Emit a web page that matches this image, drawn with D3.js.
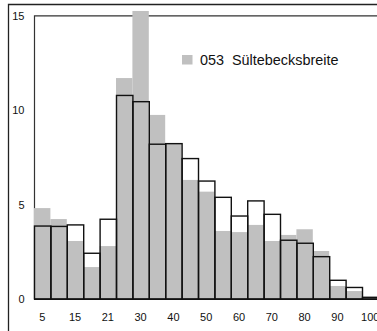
<!DOCTYPE html>
<html>
<head>
<meta charset="utf-8">
<script src="https://cdn.jsdelivr.net/npm/d3@7"></script>
<style>
  html, body { margin: 0; padding: 0; background: #fff; }
  svg { display: block; }
  text { font-family: "Liberation Sans", Arial, sans-serif; fill: #111; }
</style>
</head>
<body>
<script>
// ---- data ----
const bins = d3.range(21);                       // 21 histogram classes
const tickLabels = ["5","","15","","21","","30","","40","","50","","60","","70","","80","","90","","100"];
const seriesName = "053  Sültebecksbreite";
const grayValues = [4.81, 4.23, 3.07, 1.69, 2.80, 11.69, 15.24, 9.74, 8.25, 6.30, 5.68, 3.60, 3.54, 3.92, 3.07, 3.39, 3.69, 2.54, 0.69, 0.42, 0.05];
const outlineValues = [3.86, 3.84, 3.92, 2.42, 4.22, 10.77, 10.44, 8.19, 8.22, 7.43, 6.24, 5.38, 4.39, 5.19, 4.48, 3.11, 2.95, 2.24, 0.99, 0.61, 0.09];
const yTicks = [0, 5, 10, 15];

const W = 377, H = 331;
const svg = d3.select("body").append("svg").attr("width", W).attr("height", H);

const x = d3.scaleBand().domain(bins).range([34, 34 + 16.4 * 21]).padding(0);
const y = d3.scaleLinear().domain([0, 15]).range([299, 15.5]);

// outer frame
svg.append("path")
  .attr("d", `M8.5,${H + 2} L8.5,4.5 L${W + 2},4.5`)
  .attr("fill", "none").attr("stroke", "#222").attr("stroke-width", 1.3);

// inner frame (left + top)
svg.append("path")
  .attr("d", `M34.5,299 L34.5,${y(15) + 0.3} L${W + 2},${y(15) + 0.3}`)
  .attr("fill", "none").attr("stroke", "#333").attr("stroke-width", 1.2);

// gray bars
svg.append("g").selectAll("rect").data(bins).join("rect")
  .attr("x", d => x(d))
  .attr("width", x.bandwidth())
  .attr("y", d => y(grayValues[d]))
  .attr("height", d => y(0) - y(grayValues[d]))
  .attr("fill", "#c0c0c0");

// outlined bars
svg.append("g").selectAll("rect").data(bins).join("rect")
  .attr("x", d => x(d) + 0.5)
  .attr("width", x.bandwidth())
  .attr("y", d => y(outlineValues[d]))
  .attr("height", d => y(0) - y(outlineValues[d]))
  .attr("fill", "none")
  .attr("stroke", "#111")
  .attr("stroke-width", 1.4);

// baseline
svg.append("line")
  .attr("x1", 34).attr("x2", W + 2)
  .attr("y1", y(0) + 0.3).attr("y2", y(0) + 0.3)
  .attr("stroke", "#111").attr("stroke-width", 1.4);

// y axis labels
const yAxis = d3.axisLeft(y).tickValues(yTicks).tickSize(0).tickPadding(0).tickFormat(d3.format("d"));
const gy = svg.append("g").attr("transform", "translate(24.5,0)").call(yAxis);
gy.select(".domain").remove();
gy.selectAll("text").style("font-size", "11px").style("font-family", "Liberation Sans, Arial, sans-serif").attr("fill", "#111");

// x axis labels
const xAxis = d3.axisBottom(x).tickSize(0).tickPadding(0).tickFormat(d => tickLabels[d]);
const gx = svg.append("g").attr("transform", "translate(0,313)").call(xAxis);
gx.select(".domain").remove();
gx.selectAll("text").style("font-size", "11px").style("font-family", "Liberation Sans, Arial, sans-serif").attr("fill", "#111");

// legend
const lg = svg.append("g").attr("transform", "translate(182,55)");
lg.append("rect").attr("width", 10.5).attr("height", 9.5).attr("fill", "#c0c0c0");
lg.append("text").attr("x", 18).attr("y", 9.8)
  .style("font-size", "14.4px").style("white-space", "pre")
  .attr("xml:space", "preserve")
  .text(seriesName);
</script>
</body>
</html>
